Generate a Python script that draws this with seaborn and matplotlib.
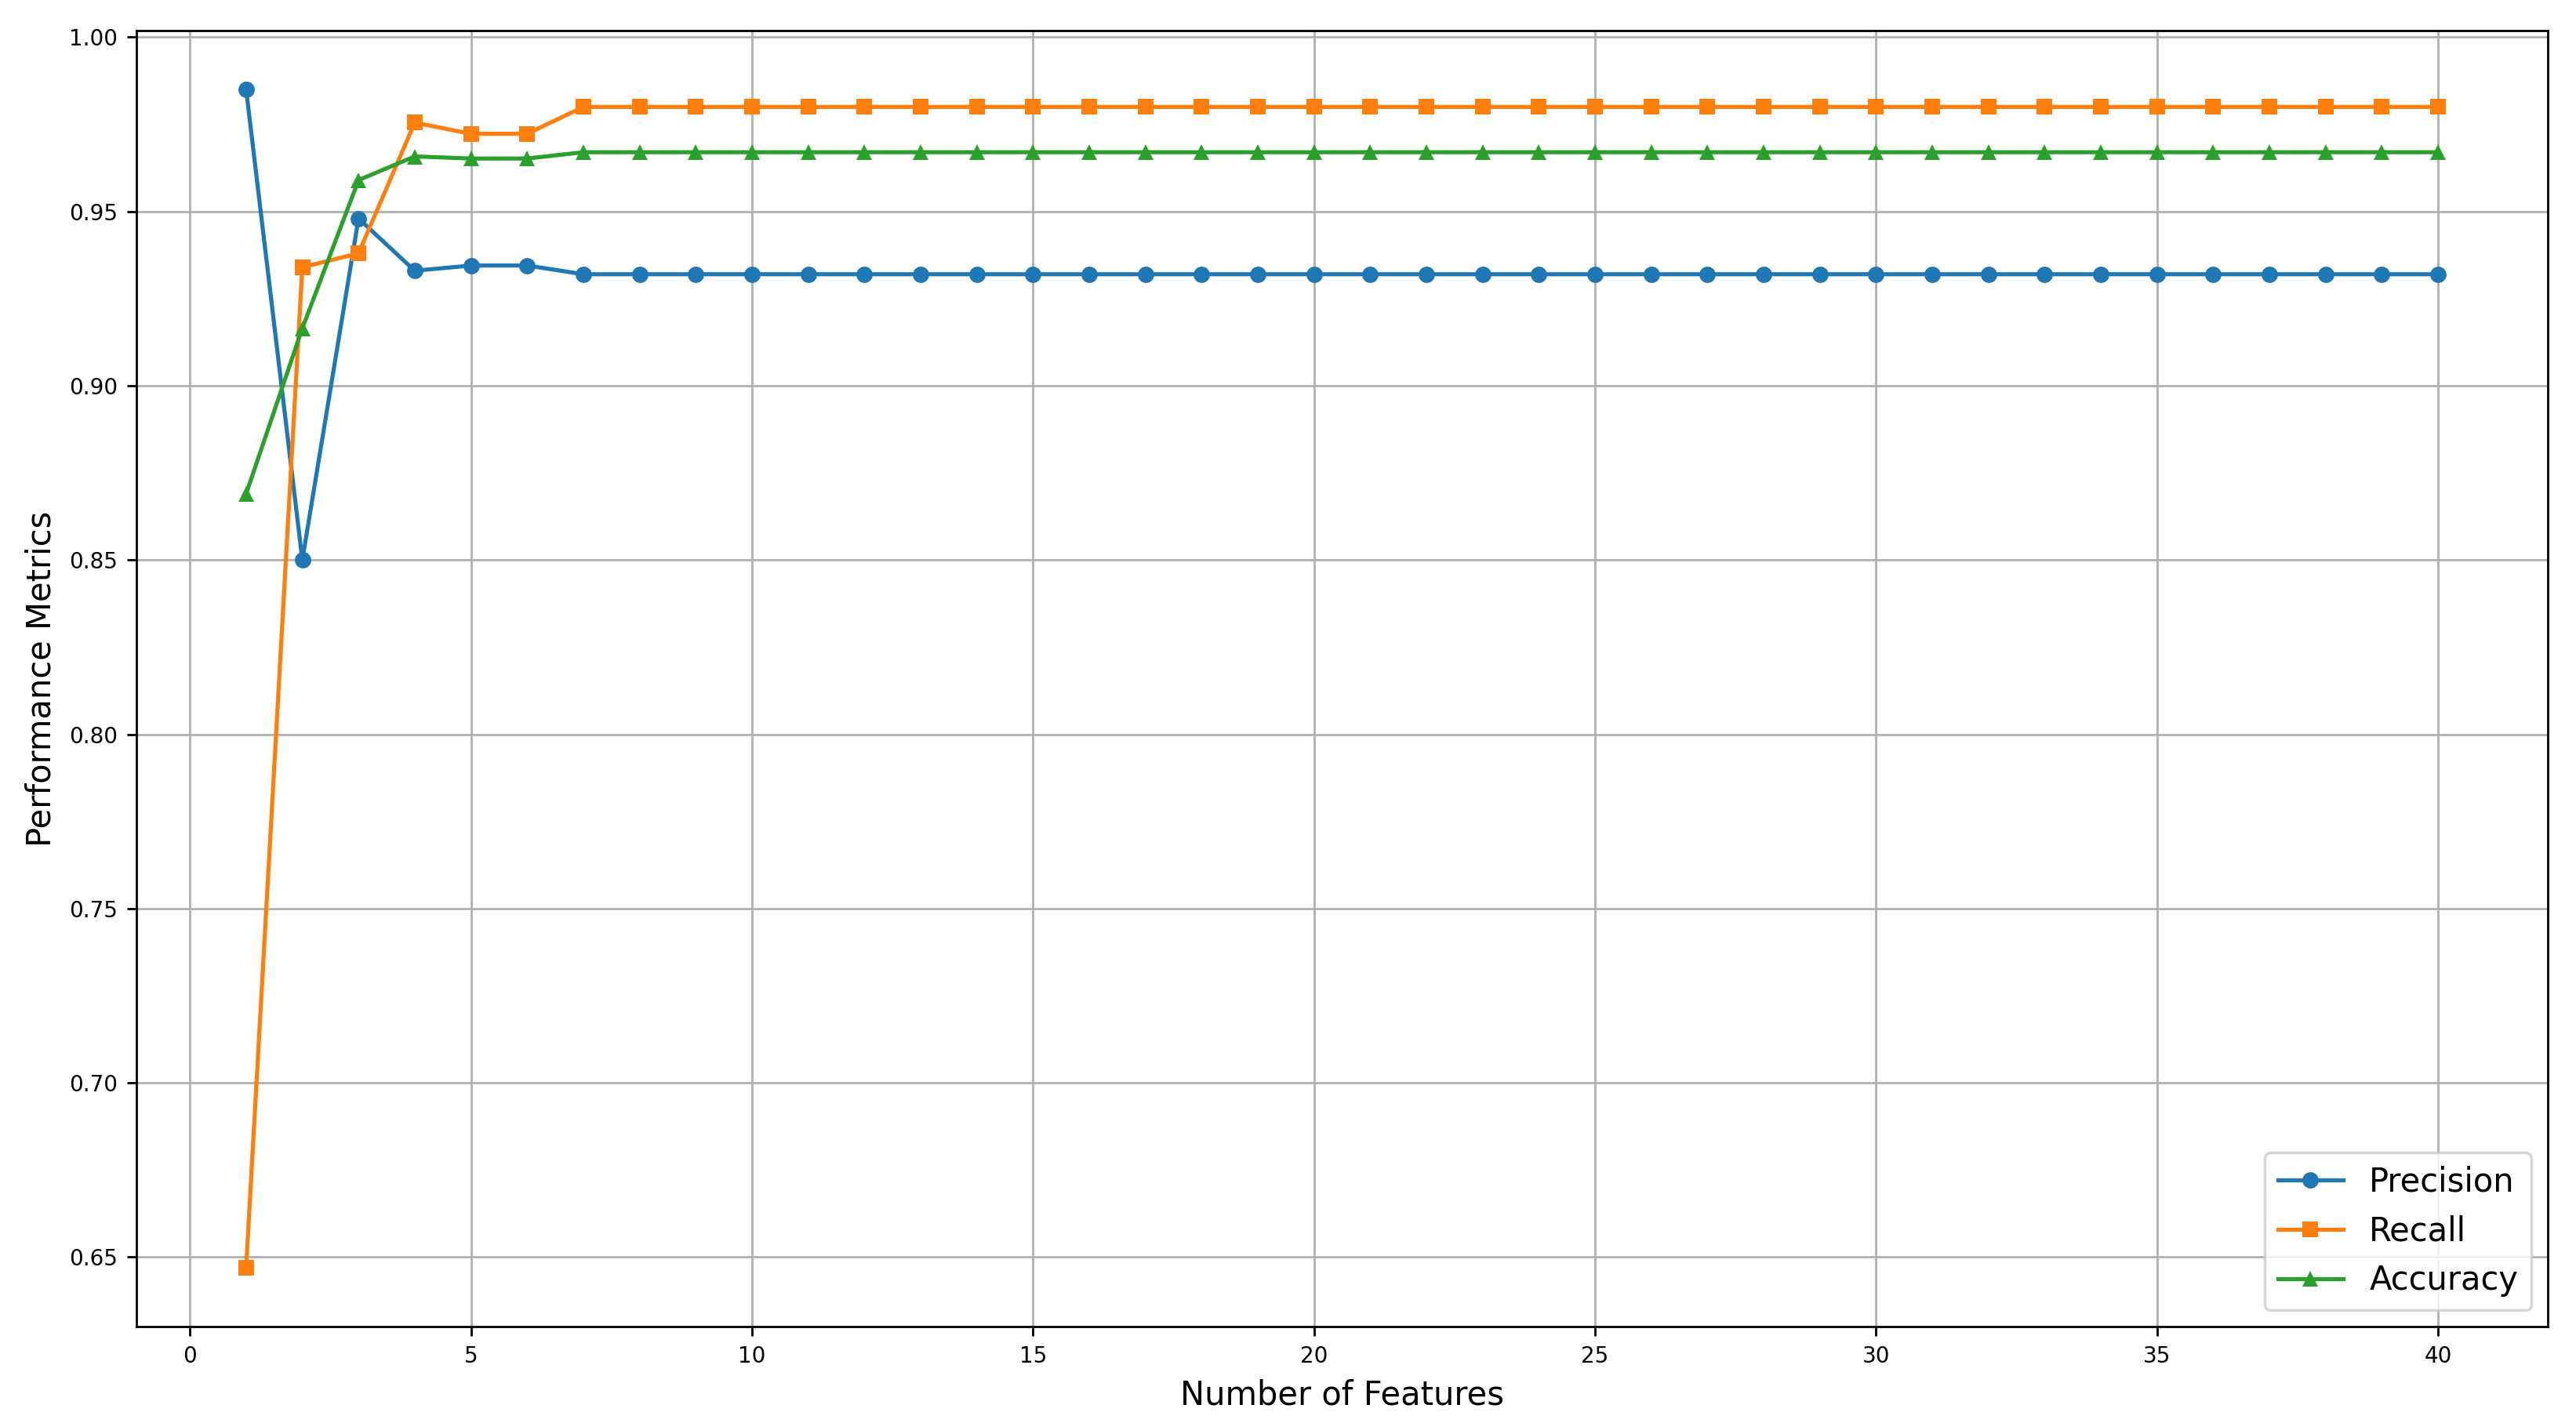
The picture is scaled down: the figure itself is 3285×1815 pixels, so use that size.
import numpy as np
import pandas as pd
import matplotlib
matplotlib.use("Agg")
import matplotlib.pyplot as plt
import seaborn as sns

features = list(range(1, 41))
precision = [0.985, 0.850, 0.948, 0.933, 0.9345, 0.9345] + [0.932] * 34
recall = [0.647, 0.934, 0.938, 0.9755, 0.9723, 0.9723] + [0.980] * 34
accuracy = [0.869, 0.9165, 0.959, 0.9658, 0.9652, 0.9652] + [0.967] * 34

series_names = ["Precision", "Recall", "Accuracy"]
series_values = [precision, recall, accuracy]
markers = ["o", "s", "^"]
colors = ["#1f77b4", "#ff7f0e", "#2ca02c"]

DPI = 250
fig = plt.figure(figsize=(3285 / DPI, 1815 / DPI), dpi=DPI)
ax = fig.add_subplot(111)
fig.subplots_adjust(left=0.053, right=0.989, top=0.9785, bottom=0.0678)

for name, vals, m, c in zip(series_names, series_values, markers, colors):
    df = pd.DataFrame({"x": features, "y": vals})
    sns.lineplot(data=df, x="x", y="y", marker=m, color=c, label=name,
                 ax=ax, linewidth=1.5, markersize=6, markeredgewidth=0)

ax.grid(True, color="#b0b0b0", linewidth=0.8)
ax.set_axisbelow(True)
ax.tick_params(labelsize=8)
ax.set_xlabel("Number of Features", fontsize=12)
ax.set_ylabel("Performance Metrics", fontsize=12)
ax.legend(loc="lower right", fontsize=12)

fig.savefig("out.png", dpi=DPI)
